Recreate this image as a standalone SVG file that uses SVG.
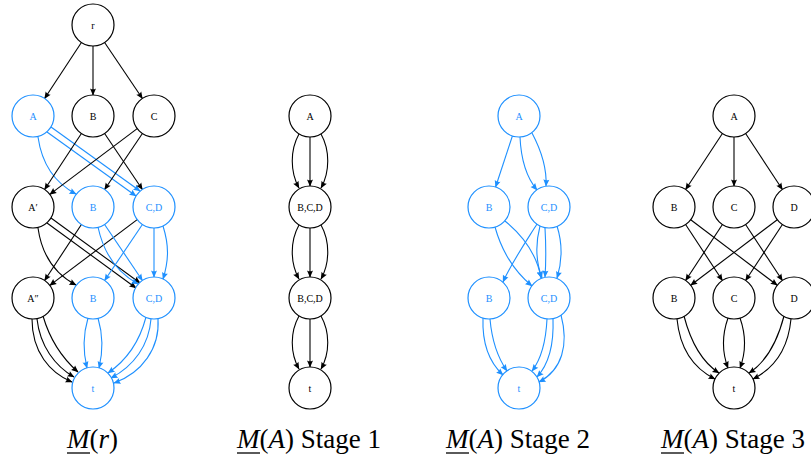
<svg xmlns="http://www.w3.org/2000/svg" width="811" height="459" viewBox="0 0 811 459">
<style>
.n circle{fill:#fff;stroke:#000;stroke-width:1.2}
.b circle{stroke:#1E90FF}
.n text{font-family:"Liberation Serif","Times New Roman",serif;font-size:10px;text-anchor:middle;fill:#000}
.b text{fill:#1E90FF}
.e path{fill:none;stroke:#000;stroke-width:1.1;marker-end:url(#ak)}
.e path.bl{stroke:#1E90FF;marker-end:url(#ab)}
.lbl{font-family:"Liberation Serif","Times New Roman",serif;font-size:27px;fill:#000}
.lbl .i{font-style:italic}
.ul{stroke:#000;stroke-width:1.3}
</style>
<defs>
<marker id="ak" viewBox="-8 -4 9 8" refX="0" refY="0" markerWidth="9" markerHeight="8" markerUnits="userSpaceOnUse" orient="auto">
<path d="M0.5,0 L-6.5,-3 Q-4.8,0 -6.5,3 Z" fill="#000"/>
</marker>
<marker id="ab" viewBox="-8 -4 9 8" refX="0" refY="0" markerWidth="9" markerHeight="8" markerUnits="userSpaceOnUse" orient="auto">
<path d="M0.5,0 L-6.5,-3 Q-4.8,0 -6.5,3 Z" fill="#1E90FF"/>
</marker>
</defs>

<g id="connectors" class="e">
<!-- M(r) -->
<path d="M81.4,42.5 L44.6,98.5"/>
<path d="M93,46 L93,95"/>
<path d="M104.6,42.5 L142.4,98.5"/>
<path class="bl" d="M38,137 C42,165 55,183 76,194"/>
<path class="bl" d="M47,132 L136,196"/>
<path class="bl" d="M51,127 L140,191"/>
<path d="M81.4,133.5 L44.6,189.5"/>
<path d="M104.6,133.5 L142.4,189.5"/>
<path d="M137.2,128.6 L49.8,194.4"/>
<path d="M142.4,133.5 L104.6,189.5"/>
<path d="M38,228 C42,256 55,274 76,285"/>
<path d="M47,223 L136,288"/>
<path d="M51,218 L140,283"/>
<path d="M81.4,224.5 L44.6,280.5"/>
<path d="M137.2,219.6 L49.8,285.4"/>
<path class="bl" d="M98,227 C104,255 118,273 138,284"/>
<path class="bl" d="M104.6,224.5 L142.4,280.5"/>
<path class="bl" d="M142.4,224.5 L104.6,280.5"/>
<path class="bl" d="M154,228 L154,277"/>
<path class="bl" d="M163,226 C169,245 169,260 163,279"/>
<path d="M32,319 C32,352 50,373 72,382"/>
<path d="M37,319 C40,346 55,366 74,377"/>
<path d="M43,316 C50,340 62,358 78,372"/>
<path class="bl" d="M88,318 C83,335 83,352 87,368"/>
<path class="bl" d="M98,318 C103,335 103,352 99,368"/>
<path class="bl" d="M146,317 C140,340 127,360 108,373"/>
<path class="bl" d="M151,319 C149,345 134,366 111,378"/>
<path class="bl" d="M158,319 C160,348 142,373 114,383"/>
<!-- Stage 1 -->
<path d="M299,134 C290,150 290,172 299,188"/>
<path d="M310,137 L310,186"/>
<path d="M321,134 C330,150 330,172 321,188"/>
<path d="M299,225 C290,241 290,263 299,279"/>
<path d="M310,228 L310,277"/>
<path d="M321,225 C330,241 330,263 321,279"/>
<path d="M299,316 C290,332 290,353 299,369"/>
<path d="M310,319 L310,367"/>
<path d="M321,316 C330,332 330,353 321,369"/>
<!-- Stage 2 -->
<path class="bl" d="M512.4,136 L495.6,187"/>
<path class="bl" d="M520,137 C521,160 527,178 537,190"/>
<path class="bl" d="M532,133 C541,150 547,168 546,186"/>
<path class="bl" d="M495,227 C502,252 515,272 532,286"/>
<path class="bl" d="M505,221 C522,235 537,255 541,278"/>
<path class="bl" d="M537,224 C525,243 512,262 503,282"/>
<path class="bl" d="M540,226 C535,245 536,262 542,278"/>
<path class="bl" d="M545,228 C546,245 546,262 545,277"/>
<path class="bl" d="M557,226 C563,245 562,262 557,278"/>
<path class="bl" d="M483,318 C482,345 490,363 503,375"/>
<path class="bl" d="M490,319 C492,342 498,358 507,371"/>
<path class="bl" d="M547,319 C546,340 542,358 532,371"/>
<path class="bl" d="M553,319 C554,345 548,365 537,377"/>
<path class="bl" d="M561,315 C569,345 562,370 539,382"/>
<!-- Stage 3 -->
<path d="M722.4,133.5 L685.6,189.5"/>
<path d="M734,137 L734,186"/>
<path d="M745.6,133.5 L782.4,189.5"/>
<path d="M685.6,224.5 L722.4,280.5"/>
<path d="M690.7,219.7 L777.3,285.3"/>
<path d="M722.4,224.5 L685.6,280.5"/>
<path d="M745.6,224.5 L782.4,280.5"/>
<path d="M777.3,219.7 L690.7,285.3"/>
<path d="M782.4,224.5 L745.6,280.5"/>
<path d="M677,319 C680,350 695,369 715,379"/>
<path d="M684,316 C691,343 702,362 719,373"/>
<path d="M728,318 C722,335 722,352 728,368"/>
<path d="M740,318 C746,335 746,352 740,368"/>
<path d="M791,319 C788,350 773,369 753,379"/>
<path d="M784,316 C777,343 766,362 749,373"/>
</g>

<!-- M(r) nodes -->
<g id="r" class="n"><circle cx="93" cy="25" r="21"/><text x="93" y="28.5">r</text></g>
<g id="r_A" class="n b"><circle cx="33" cy="116" r="21"/><text x="33" y="119.5">A</text></g>
<g id="r_B" class="n"><circle cx="93" cy="116" r="21"/><text x="93" y="119.5">B</text></g>
<g id="r_C" class="n"><circle cx="154" cy="116" r="21"/><text x="154" y="119.5">C</text></g>
<g id="r_A1" class="n"><circle cx="33" cy="207" r="21"/><text x="33" y="210.5">A′</text></g>
<g id="r_B3" class="n b"><circle cx="93" cy="207" r="21"/><text x="93" y="210.5">B</text></g>
<g id="r_CD3" class="n b"><circle cx="154" cy="207" r="21"/><text x="154" y="210.5">C,D</text></g>
<g id="r_A2" class="n"><circle cx="33" cy="298" r="21"/><text x="33" y="301.5">A″</text></g>
<g id="r_B4" class="n b"><circle cx="93" cy="298" r="21"/><text x="93" y="301.5">B</text></g>
<g id="r_CD4" class="n b"><circle cx="154" cy="298" r="21"/><text x="154" y="301.5">C,D</text></g>
<g id="r_t" class="n b"><circle cx="93" cy="388" r="21"/><text x="93" y="391.5">t</text></g>

<!-- Stage 1 nodes -->
<g id="s1_A" class="n"><circle cx="310" cy="116" r="21"/><text x="310" y="119.5">A</text></g>
<g id="s1_BCD1" class="n"><circle cx="310" cy="207" r="21"/><text x="310" y="210.5">B,C,D</text></g>
<g id="s1_BCD2" class="n"><circle cx="310" cy="298" r="21"/><text x="310" y="301.5">B,C,D</text></g>
<g id="s1_t" class="n"><circle cx="310" cy="388" r="21"/><text x="310" y="391.5">t</text></g>

<!-- Stage 2 nodes -->
<g id="s2_A" class="n b"><circle cx="519" cy="116" r="21"/><text x="519" y="119.5">A</text></g>
<g id="s2_B3" class="n b"><circle cx="489" cy="207" r="21"/><text x="489" y="210.5">B</text></g>
<g id="s2_CD3" class="n b"><circle cx="549" cy="207" r="21"/><text x="549" y="210.5">C,D</text></g>
<g id="s2_B4" class="n b"><circle cx="489" cy="298" r="21"/><text x="489" y="301.5">B</text></g>
<g id="s2_CD4" class="n b"><circle cx="549" cy="298" r="21"/><text x="549" y="301.5">C,D</text></g>
<g id="s2_t" class="n b"><circle cx="519" cy="388" r="21"/><text x="519" y="391.5">t</text></g>

<!-- Stage 3 nodes -->
<g id="s3_A" class="n"><circle cx="734" cy="116" r="21"/><text x="734" y="119.5">A</text></g>
<g id="s3_B3" class="n"><circle cx="674" cy="207" r="21"/><text x="674" y="210.5">B</text></g>
<g id="s3_C3" class="n"><circle cx="734" cy="207" r="21"/><text x="734" y="210.5">C</text></g>
<g id="s3_D3" class="n"><circle cx="794" cy="207" r="21"/><text x="794" y="210.5">D</text></g>
<g id="s3_B4" class="n"><circle cx="674" cy="298" r="21"/><text x="674" y="301.5">B</text></g>
<g id="s3_C4" class="n"><circle cx="734" cy="298" r="21"/><text x="734" y="301.5">C</text></g>
<g id="s3_D4" class="n"><circle cx="794" cy="298" r="21"/><text x="794" y="301.5">D</text></g>
<g id="s3_t" class="n"><circle cx="734" cy="388" r="21"/><text x="734" y="391.5">t</text></g>

<!-- captions -->
<g id="cap_r">
<text class="lbl" x="67" y="448"><tspan class="i">M</tspan>(<tspan class="i">r</tspan>)</text>
<line class="ul" x1="67" y1="453" x2="90" y2="453"/>
</g>
<g id="cap_s1">
<text class="lbl" x="237" y="448"><tspan class="i">M</tspan>(<tspan class="i">A</tspan>) Stage 1</text>
<line class="ul" x1="237" y1="453" x2="260" y2="453"/>
</g>
<g id="cap_s2">
<text class="lbl" x="446" y="448"><tspan class="i">M</tspan>(<tspan class="i">A</tspan>) Stage 2</text>
<line class="ul" x1="446" y1="453" x2="469" y2="453"/>
</g>
<g id="cap_s3">
<text class="lbl" x="661" y="448"><tspan class="i">M</tspan>(<tspan class="i">A</tspan>) Stage 3</text>
<line class="ul" x1="661" y1="453" x2="684" y2="453"/>
</g>
</svg>
